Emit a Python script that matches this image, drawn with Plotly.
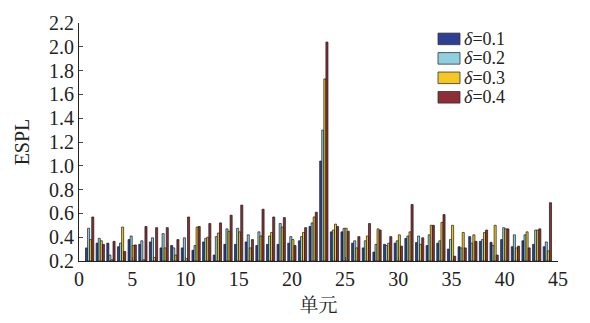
import plotly.graph_objects as go

elements = list(range(1, 45))
d01 = [0.31, 0.35, 0.35, 0.32, 0.38, 0.34, 0.36, 0.31, 0.33, 0.31, 0.29,
       0.36, 0.25, 0.34, 0.34, 0.36, 0.33, 0.34, 0.34, 0.35, 0.37, 0.49,
       1.04, 0.445, 0.445, 0.35, 0.31, 0.275, 0.34, 0.35, 0.39, 0.355, 0.33, 0.35,
       0.30, 0.32, 0.405, 0.365, 0.357, 0.38, 0.32, 0.37, 0.34, 0.32]
d02 = [0.475, 0.39, 0.25, 0.35, 0.41, 0.37, 0.395, 0.43, 0.31, 0.395, 0.33,
       0.39, 0.405, 0.47, 0.475, 0.42, 0.445, 0.41, 0.515, 0.405, 0.405, 0.52,
       1.30, 0.46, 0.475, 0.37, 0.37, 0.34, 0.33, 0.37, 0.41, 0.41, 0.42, 0.37,
       0.38, 0.31, 0.35, 0.38, 0.33, 0.48, 0.42, 0.42, 0.46, 0.36]
d03 = [0.38, 0.37, 0.21, 0.485, 0.33, 0.21, 0.23, 0.31, 0.25, 0.22, 0.485,
       0.40, 0.435, 0.45, 0.445, 0.31, 0.41, 0.44, 0.485, 0.38, 0.44, 0.57,
       1.73, 0.51, 0.475, 0.31, 0.41, 0.47, 0.35, 0.42, 0.445, 0.34, 0.50, 0.525,
       0.50, 0.44, 0.42, 0.44, 0.50, 0.47, 0.31, 0.445, 0.46, 0.285]
d04 = [0.57, 0.34, 0.365, 0.28, 0.335, 0.49, 0.48, 0.48, 0.38, 0.57, 0.49,
       0.515, 0.52, 0.585, 0.67, 0.38, 0.635, 0.57, 0.565, 0.33, 0.48, 0.61,
       2.04, 0.49, 0.45, 0.405, 0.515, 0.46, 0.405, 0.325, 0.675, 0.395, 0.50, 0.59,
       0.24, 0.31, 0.365, 0.46, 0.25, 0.47, 0.325, 0.31, 0.47, 0.69]
series_names = ["<i>δ</i>=0.1", "<i>δ</i>=0.2", "<i>δ</i>=0.3", "<i>δ</i>=0.4"]
colors = ["#2E3F94", "#8FD0E0", "#F4C820", "#8E2E36"]
x_ticks = [0, 5, 10, 15, 20, 25, 30, 35, 40, 45]
y_ticks = [0.2, 0.4, 0.6, 0.8, 1.0, 1.2, 1.4, 1.6, 1.8, 2.0, 2.2]

font_main = "Liberation Serif"

fig = go.Figure()
for name, vals, col in zip(series_names, [d01, d02, d03, d04], colors):
    fig.add_trace(go.Bar(
        x=elements, y=[v - 0.2 for v in vals], base=0.2, name=name,
        showlegend=False,
        marker=dict(color=col, line=dict(color="#1a1a1a", width=0.7)),
    ))

# custom legend (wide swatches like the reference)
plot_l, plot_t, plot_w, plot_h = 79, 15, 479, 247
def px_to_paper(x, y):
    return (x - plot_l) / plot_w, 1 - (y - plot_t) / plot_h

for i, (name, col) in enumerate(zip(series_names, colors)):
    yc = 31.5 + i * 20.2
    x0, y0 = px_to_paper(438, yc - 6)
    x1, y1 = px_to_paper(460, yc + 6)
    fig.add_shape(type="rect", xref="paper", yref="paper", x0=x0, x1=x1,
                  y0=y1, y1=y0, fillcolor=col,
                  line=dict(color="#333", width=0.8))
    tx, ty = px_to_paper(463, yc)
    fig.add_annotation(xref="paper", yref="paper", x=tx, y=ty, text=name,
                       showarrow=False, xanchor="left", yanchor="middle",
                       borderpad=0,
                       font=dict(family=font_main, size=18, color="#222"))

fig.update_layout(
    width=590, height=323,
    margin=dict(l=79, r=32, t=15, b=61),
    paper_bgcolor="white", plot_bgcolor="white",
    barmode="group", bargap=0.22, bargroupgap=0.0,
    font=dict(family=font_main, size=20, color="#222"),
    xaxis=dict(range=[0, 45], tickvals=x_ticks, ticks="inside", ticklen=4,
               showline=True, linecolor="#222", linewidth=1, showgrid=False,
               zeroline=False, mirror=False,
               title=dict(text="单元", font=dict(size=19,
                          family="Noto Serif CJK SC, Noto Sans CJK SC"),
                          standoff=8)),
    yaxis=dict(range=[0.2, 2.2], tickvals=y_ticks, tickformat=".1f",
               ticks="inside", ticklen=4, showline=True, linecolor="#222",
               linewidth=1, showgrid=False, zeroline=False,
               title=dict(text="ESPL", font=dict(size=20), standoff=14)),
)

fig.write_html("out.html")
